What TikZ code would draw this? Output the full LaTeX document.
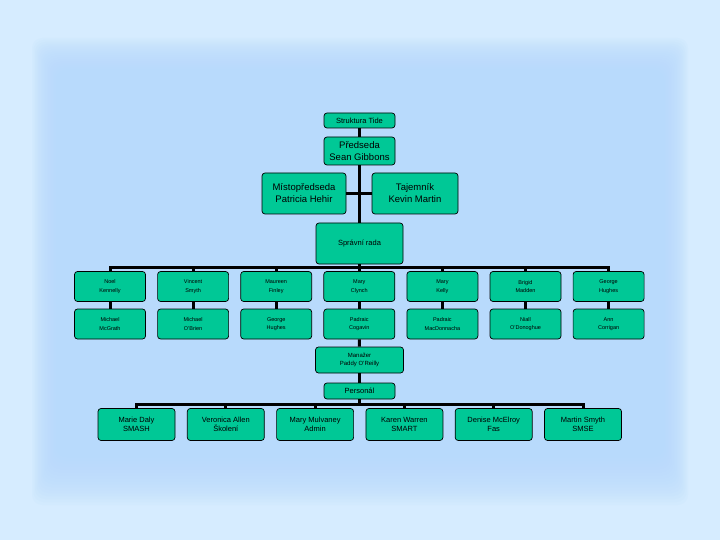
\documentclass[tikz,border=0pt]{standalone}
\usepackage{fontspec}
\setmainfont{Liberation Sans}
\definecolor{bgouter}{RGB}{214,236,255}
\definecolor{bginner}{RGB}{184,218,252}
\definecolor{boxgreen}{RGB}{0,200,150}

\begin{document}
\begin{tikzpicture}[x=1pt,y=-1pt,
  box/.style={draw=black,line width=0.7pt,fill=boxgreen,rounded corners=3pt,align=center,inner sep=0pt},
  bigbox/.style={box,minimum width=#1,minimum height=41pt,font=\fontsize{9.5}{12}\selectfont},
  namebox/.style={box,minimum width=71pt,minimum height=30pt,font=\fontsize{5.5}{8.5}\selectfont},
  staffbox/.style={box,minimum width=77pt,minimum height=32pt,font=\fontsize{7.5}{9}\selectfont},
  conn/.style={line width=3pt}]
% background
\fill[bgouter] (0,0) rectangle (720,540);
\foreach \k in {0,...,19} {
  \fill[bginner,opacity=0.1,rounded corners=10pt] (32+\k*1.5,38+\k*2) rectangle (688-\k*1.5,505-\k*3);
}
\useasboundingbox (0,0) rectangle (720,540);

% top of the chart
\node[box,minimum width=71pt,minimum height=15pt,font=\fontsize{7.5}{9}\selectfont] (tit) at (359.5,120.5) {Struktura Tide};
\node[box,minimum width=71pt,minimum height=28pt,font=\fontsize{9.5}{12}\selectfont] (pred) at (359.5,151) {Předseda\\Sean Gibbons};
\node[bigbox=84pt] (mist) at (304,193.5) {Místopředseda\\Patricia Hehir};
\node[bigbox=86pt] (taj) at (415,193.5) {Tajemník\\Kevin Martin};
\node[box,minimum width=87pt,minimum height=41pt,font=\fontsize{7.5}{9}\selectfont] (rada) at (359.5,243.5) {Správní rada};
\coordinate (bus1) at (359.5,267);

% board members
\foreach \i/\a/\b in {1/{Noel\\Kennelly}/{Michael\\McGrath},
  2/{Vincent\\Smyth}/{Michael\\O'Brien},
  3/{Maureen\\Finley}/{George\\Hughes},
  4/{Mary\\Clynch}/{Padraic\\Cogavin},
  5/{Mary\\Kelly}/{Padraic\\MacDonnacha},
  6/{Brigid\\Madden}/{Niall\\O'Donoghue},
  7/{George\\Hughes}/{Ann\\Corrigan}} {
  \node[namebox] (ra\i) at (110+83.1*\i-83.1,286.5) {\a};
  \node[namebox] (rb\i) at (110+83.1*\i-83.1,324) {\b};
}

% management
\node[box,minimum width=88pt,minimum height=26pt,font=\fontsize{6}{8.5}\selectfont] (man) at (359.5,360) {Manažer\\Paddy O'Reilly};
\node[box,minimum width=71pt,minimum height=16pt,font=\fontsize{7.5}{9}\selectfont] (pers) at (359.5,391) {Personál};
\coordinate (bus2) at (359.5,404);

% staff
\foreach \i/\a in {1/{Marie Daly\\SMASH},2/{Veronica Allen\\Školení},3/{Mary Mulvaney\\Admin},
  4/{Karen Warren\\SMART},5/{Denise McElroy\\Fas},6/{Martin Smyth\\SMSE}} {
  \node[staffbox] (st\i) at (136.5+89.3*\i-89.3,424.5) {\a};
}

% connectors
\draw[conn] (tit.south) -- (pred.north);
\draw[conn] (pred.south) -- (rada.north);
\draw[conn] (mist.east) -- (taj.west);
\draw[conn] (rada.south) -- (bus1);
\foreach \i in {1,...,7} {
  \draw[conn] (ra\i.north) |- (bus1);
  \draw[conn] (ra\i.south) -- (rb\i.north);
}
\draw[conn] (rb4.south) -- (man.north);
\draw[conn] (man.south) -- (pers.north);
\draw[conn] (pers.south) -- (bus2);
\foreach \i in {1,...,6} {
  \draw[conn] (st\i.north) |- (bus2);
}
\end{tikzpicture}
\end{document}
